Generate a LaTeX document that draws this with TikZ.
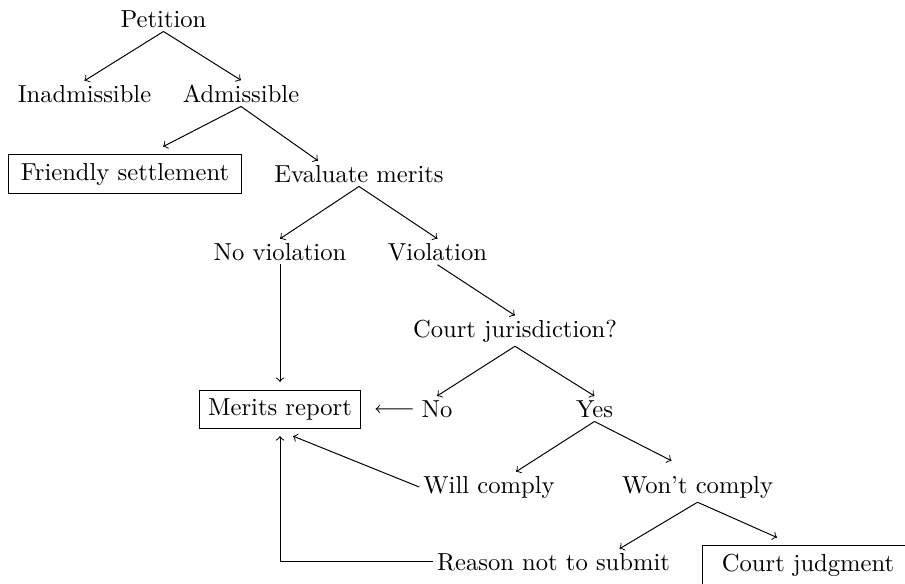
\documentclass[tikz,border=0pt]{standalone}
\usepackage{tikz}
\usepackage{amsmath,amssymb}

\begin{document}
\begin{tikzpicture}[x=0.4067pt,y=-0.4067pt,
    txt/.style={inner sep=1.5pt,anchor=base},
    outcome/.style={draw,outer sep=3.3pt}]
    \useasboundingbox (0,0) rectangle (905,583);
    \node[txt] (pet) at (163.5,27) {Petition};
    \node[txt] (inad) at (84.5,102) {Inadmissible};
    \node[txt] (adm) at (241,102) {Admissible};
    \node[outcome,inner xsep=5pt] (fs) at (125,174) {Friendly settlement};
    \node[txt] (em) at (359,182) {Evaluate merits};
    \node[txt] (nov) at (280,260) {No violation};
    \node[txt] (vio) at (437.5,260) {Violation};
    \node[txt] (cj) at (515,337) {Court jurisdiction?};
    \node[outcome] (mr) at (280,409) {Merits report};
    \node[txt] (no) at (437,417) {No};
    \node[txt] (yes) at (594.5,417) {Yes};
    \node[txt] (wc) at (489,493) {Will comply};
    \node[txt] (wnc) at (697.5,493) {Won't comply};
    \node[txt] (rns) at (553.5,570) {Reason not to submit};
    \node[outcome,inner xsep=7.8pt] (cjud) at (808,565) {Court judgment};
    \begin{scope}[->]
      \draw (pet.south) -- (inad.north);
      \draw (pet.south) -- (adm.north);
      \draw (adm.south) -- ([shift={(38,0)}]fs.north);
      \draw (adm.south) -- ([shift={(-41,0)}]em.north);
      \draw (em.south) -- (nov.north);
      \draw (em.south) -- (vio.north);
      \draw (vio.south) -- (cj.north);
      \draw (cj.south) -- (no.north);
      \draw (cj.south) -- (yes.north);
      \draw (yes.south) -- ([shift={(27,0)}]wc.north);
      \draw (yes.south) -- ([shift={(-26,-11)}]wnc.north);
      \draw (wnc.south) -- ([shift={(66,0)}]rns.north);
      \draw (wnc.south) -- ([shift={(-31,0)}]cjud.north);
      % back to the report
      \draw (nov.south) -- (mr.north);
      \draw[shorten <=2pt,shorten >=3pt] (no.west) -- (mr.east);
      \draw (wc.west) -- ([shift={(13,0)}]mr.south);
      \draw (rns.west) -| (mr.south);
    \end{scope}
\end{tikzpicture}
\end{document}
